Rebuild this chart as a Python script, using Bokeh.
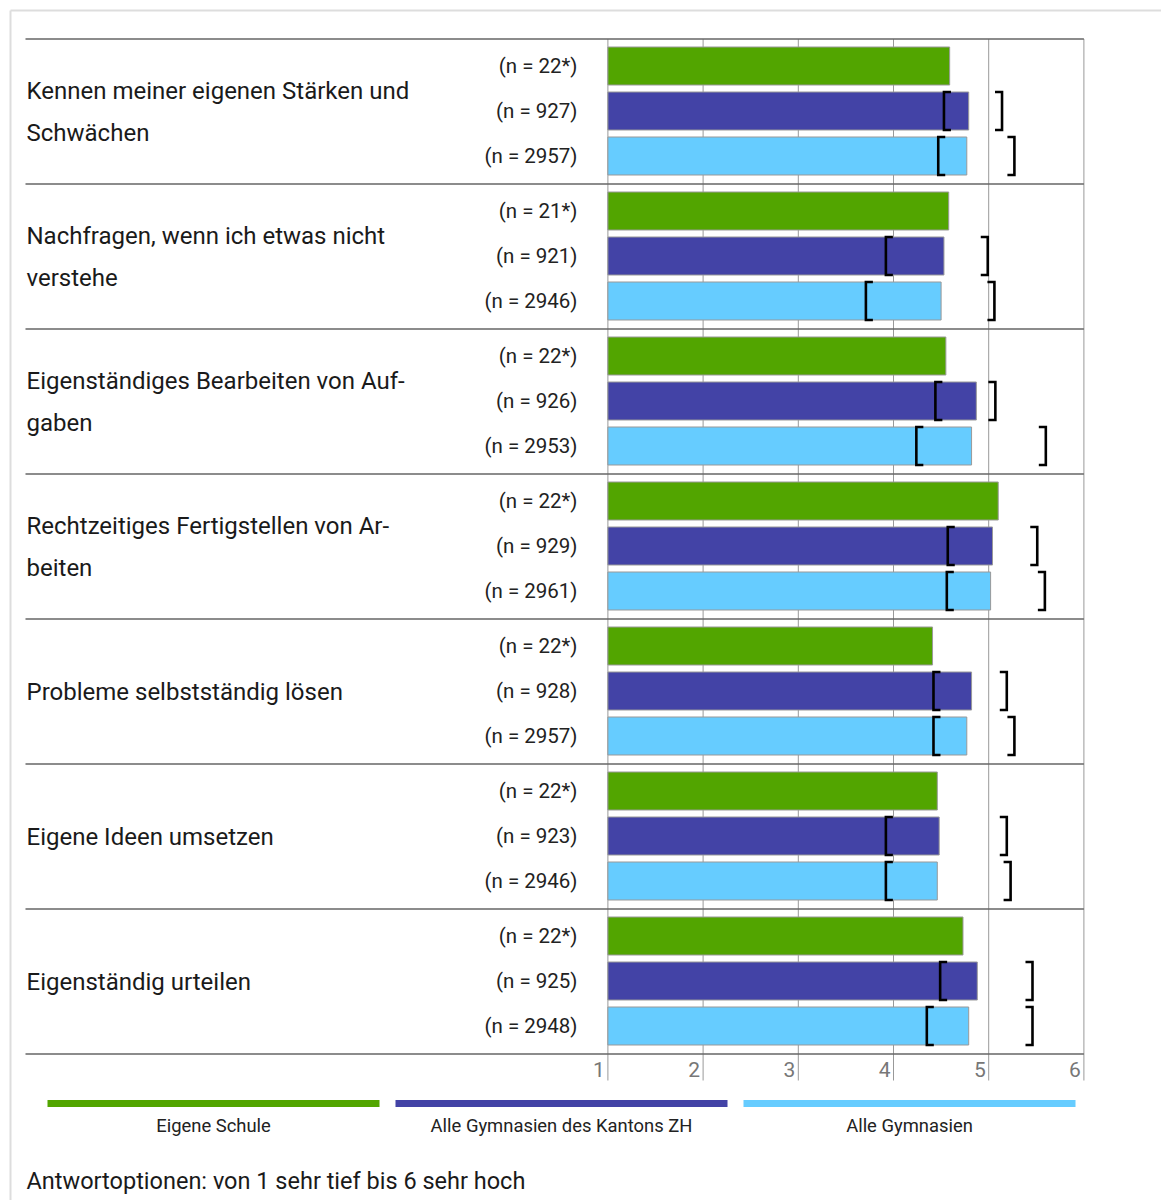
from bokeh.plotting import figure
from bokeh.models import Range1d
from bokeh.core.properties import value
from bokeh.embed import file_html
from bokeh.resources import INLINE

# ---------------- data ----------------
categories = [
    ["Kennen meiner eigenen Stärken und", "Schwächen"],
    ["Nachfragen, wenn ich etwas nicht", "verstehe"],
    ["Eigenständiges Bearbeiten von Auf-", "gaben"],
    ["Rechtzeitiges Fertigstellen von Ar-", "beiten"],
    ["Probleme selbstständig lösen"],
    ["Eigene Ideen umsetzen"],
    ["Eigenständig urteilen"],
]
series_names = ["Eigene Schule", "Alle Gymnasien des Kantons ZH", "Alle Gymnasien"]
series_colors = ["#52A500", "#4343A6", "#66CCFF"]

eigene_schule = [4.59, 4.58, 4.55, 5.10, 4.41, 4.46, 4.73]
kanton_zh = [4.79, 4.53, 4.87, 5.04, 4.82, 4.48, 4.88]
alle_gymnasien = [4.77, 4.50, 4.82, 5.02, 4.77, 4.46, 4.79]

n_eigene = ["22*", "21*", "22*", "22*", "22*", "22*", "22*"]
n_kanton = ["927", "921", "926", "929", "928", "923", "925"]
n_alle = ["2957", "2946", "2953", "2961", "2957", "2946", "2948"]

# range markers [ ... ] for the comparison groups
kanton_low = [4.53, 3.92, 4.44, 4.57, 4.42, 3.92, 4.49]
kanton_high = [5.14, 4.99, 5.07, 5.51, 5.19, 5.19, 5.46]
alle_low = [4.47, 3.71, 4.24, 4.56, 4.42, 3.92, 4.35]
alle_high = [5.27, 5.06, 5.60, 5.59, 5.27, 5.23, 5.46]

x_ticks = [1, 2, 3, 4, 5, 6]
tick_labels = ["1", "2", "3", "4", "5", "6"]
footnote = "Antwortoptionen: von 1 sehr tief bis 6 sehr hoch"

# ---------------- layout ----------------
W, H = 1161, 1200
X1_PAGE = 607.4      # page x of scale value 1
UNIT = 95.2          # px per scale unit
TOP0 = 38.5          # first separator (page y)
GH = 145             # group height
BAR_OFF = [27, 72, 117]
BAR_H = 38
FONT = value("Roboto")


def vx(page_x):
    return 1 + (page_x - X1_PAGE) / UNIT


p = figure(width=W, height=H,
           x_range=Range1d(vx(0), vx(W)),
           y_range=Range1d(H, 0),
           x_axis_type=None, y_axis_type=None,
           output_backend="svg", toolbar_location=None, min_border=0)
p.outline_line_color = None
p.background_fill_color = "white"
p.border_fill_color = "white"

# outer light frame
p.segment(x0=[vx(10), vx(10)], y0=[10, 10], x1=[vx(10), vx(1170)], y1=[H, 10],
          line_color="#dddddd", line_width=2)

ng = len(categories)
seps = [TOP0 + GH * k for k in range(ng + 1)]

# vertical grid / tick lines
p.segment(x0=x_ticks, y0=[TOP0] * len(x_ticks), x1=x_ticks, y1=[1080] * len(x_ticks),
          line_color="#999999", line_width=1)
# horizontal separators
p.segment(x0=[vx(25)] * len(seps), y0=seps, x1=[6] * len(seps), y1=seps,
          line_color="#666666", line_width=1.3)

series_vals = [eigene_schule, kanton_zh, alle_gymnasien]
series_n = [n_eigene, n_kanton, n_alle]
for s in range(3):
    ys = [TOP0 + GH * g + BAR_OFF[s] for g in range(ng)]
    p.hbar(y=ys, left=1, right=series_vals[s], height=BAR_H,
           fill_color=series_colors[s], line_color="#999999", line_width=1)
    p.text(x=[vx(577)] * ng, y=ys, text=["(n = %s)" % n for n in series_n[s]],
           text_align="right", text_baseline="middle", text_font=FONT,
           text_font_size="20.5px", text_color="#222222")

# brackets
serif = 7 / UNIT
for s, (lows, highs) in zip([1, 2], [(kanton_low, kanton_high), (alle_low, alle_high)]):
    xs, ys = [], []
    for g in range(ng):
        yc = TOP0 + GH * g + BAR_OFF[s]
        t, b = yc - BAR_H / 2, yc + BAR_H / 2
        lo, hi = lows[g], highs[g]
        xs.append([lo + serif, lo, lo, lo + serif])
        ys.append([t, t, b, b])
        xs.append([hi - serif, hi, hi, hi - serif])
        ys.append([t, t, b, b])
    p.multi_line(xs=xs, ys=ys, line_color="black", line_width=2.6, line_join="miter")

# category labels
lx, ly, lt = [], [], []
for g, lines in enumerate(categories):
    c = TOP0 + GH * g + 72.5
    if len(lines) == 1:
        offs = [0]
    else:
        offs = [-21, 21]
    for line, o in zip(lines, offs):
        lx.append(vx(26))
        ly.append(c + o)
        lt.append(line)
p.text(x=lx, y=ly, text=lt, text_align="left", text_baseline="middle",
       text_font=FONT, text_font_size="24px", text_color="#1a1a1a")

# tick labels
p.text(x=[t - 3 / UNIT for t in x_ticks], y=[1069] * len(x_ticks), text=tick_labels,
       text_align="right", text_baseline="middle", text_font=FONT,
       text_font_size="21px", text_color="#777777")

# legend
leg_x0 = [vx(47 + 348 * i) for i in range(3)]
leg_x1 = [vx(379 + 348 * i) for i in range(3)]
p.segment(x0=leg_x0, y0=[1103] * 3, x1=leg_x1, y1=[1103] * 3,
          line_color=series_colors, line_width=7)
p.text(x=[(a + b) / 2 for a, b in zip(leg_x0, leg_x1)], y=[1125] * 3, text=series_names,
       text_align="center", text_baseline="middle", text_font=FONT,
       text_font_size="18.4px", text_color="#222222")

# footnote
p.text(x=[vx(26)], y=[1180], text=[footnote], text_align="left", text_baseline="middle",
       text_font=FONT, text_font_size="23.5px", text_color="#1a1a1a")

open("out.html", "w").write(file_html(p, INLINE))
